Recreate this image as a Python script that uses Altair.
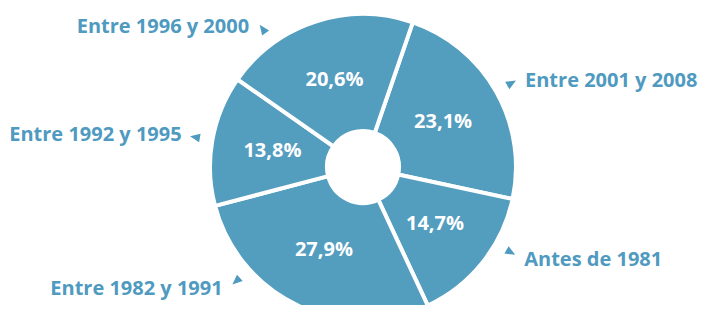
import numpy as np
import pandas as pd
import altair as alt

# ---- data ----
categories = ["Entre 2001 y 2008", "Antes de 1981", "Entre 1982 y 1991",
              "Entre 1992 y 1995", "Entre 1996 y 2000"]
shares = [23.1, 14.7, 27.9, 13.8, 20.6]
pct_labels = ["23,1%", "14,7%", "27,9%", "13,8%", "20,6%"]

# ---- layout / style ----
W, H = 690, 297
CX, CY = 355, 159
START_DEG = 19.0
R_OUT, R_IN = 153, 36
R_TXT = 92
R_TRI = 170
BLUE = "#539dbf"
TXT_BLUE = "#4f9ac0"
FONT = "Open Sans"
FS = 20
ARROW = "M0,-1L0.75,0.75L-0.75,0.75Z"

df = pd.DataFrame({"cat": categories, "v": shares, "lab": pct_labels,
                   "idx": list(range(len(shares)))})
total = df["v"].sum()
cum = df["v"].cumsum()
mid = START_DEG + 360.0 * (cum - df["v"] / 2) / total
mid = np.mod(mid, 360)
# keep outside labels out of the top and the cropped bottom sectors
la = np.where(mid < 180, np.clip(mid, 40, 120), np.clip(mid, 228, 324))
rad = np.deg2rad(la)
df["tx"] = CX + R_TRI * np.sin(rad)
df["ty"] = CY - R_TRI * np.cos(rad)
df["ang"] = la
df["right"] = la < 180
df["lx"] = df["tx"] + np.where(df["right"], 14, -14)
df["ly"] = df["ty"] + np.where(np.cos(rad) > 0, -2, 8)

s = float(np.deg2rad(START_DEG))
theta = alt.Theta("v:Q", stack=True,
                  scale=alt.Scale(range=[s, s + 2 * np.pi]))
order = alt.Order("idx:Q")

base = alt.Chart(df)

arcs = base.mark_arc(outerRadius=R_OUT, innerRadius=R_IN, stroke="white",
                     strokeWidth=4, color=BLUE).encode(
    theta=theta, order=order, x=alt.value(CX), y=alt.value(CY))

inner = base.mark_text(radius=R_TXT, fontSize=FS, fontWeight="bold",
                       font=FONT, color="white").encode(
    theta=theta, order=order, text="lab:N",
    x=alt.value(CX), y=alt.value(CY))

tri = base.mark_point(shape=ARROW, filled=True, size=130,
                      color=TXT_BLUE, opacity=1).encode(
    x=alt.X("tx:Q", scale=None, axis=None),
    y=alt.Y("ty:Q", scale=None, axis=None),
    angle=alt.Angle("ang:Q", scale=None))

lab_r = base.transform_filter("datum.right").mark_text(
    align="left", baseline="middle", fontSize=FS, fontWeight="bold",
    font=FONT, color=TXT_BLUE).encode(
    x=alt.X("lx:Q", scale=None, axis=None),
    y=alt.Y("ly:Q", scale=None, axis=None), text="cat:N")

lab_l = base.transform_filter("!datum.right").mark_text(
    align="right", baseline="middle", fontSize=FS, fontWeight="bold",
    font=FONT, color=TXT_BLUE).encode(
    x=alt.X("lx:Q", scale=None, axis=None),
    y=alt.Y("ly:Q", scale=None, axis=None), text="cat:N")

chart = alt.layer(arcs, inner, tri, lab_r, lab_l).properties(
    width=W, height=H, padding=0,
    autosize=alt.AutoSizeParams(type="none")
).configure_view(stroke=None)

chart.save("out.html", embed_options={"renderer": "svg", "actions": False})
